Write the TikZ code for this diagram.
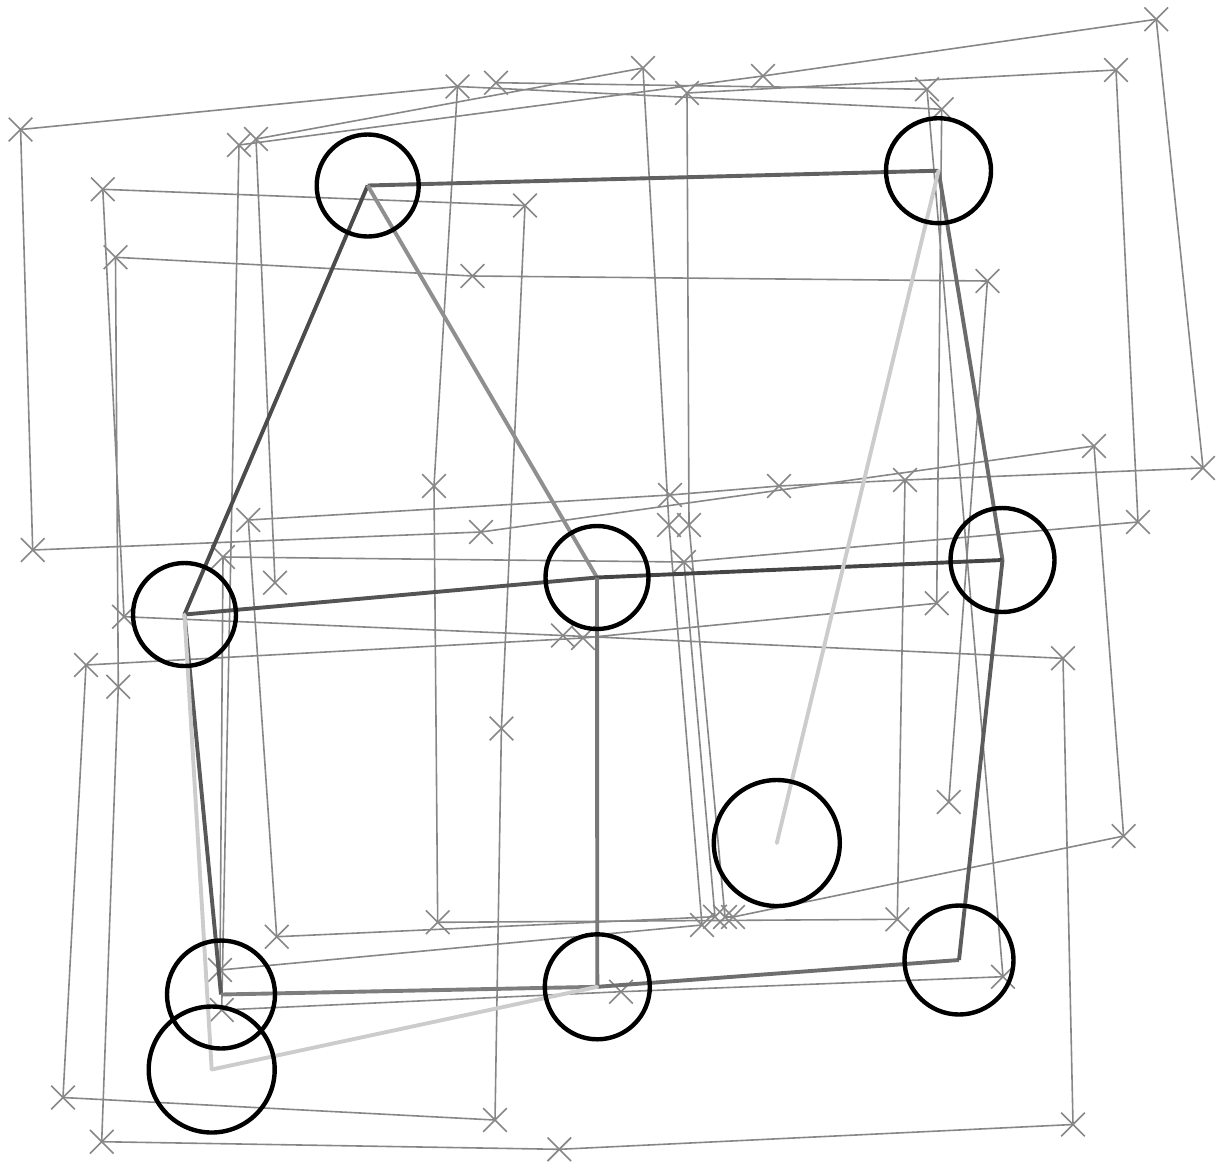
\documentclass[tikz,border=0pt]{standalone}
\usetikzlibrary{shapes.misc}

\begin{document}
\begin{tikzpicture}[
  x=0.1mm, y=-0.1mm,
  track/.style={draw=black!47, line width=0.16mm, line join=round},
  crossmark/.style={cross out, draw=black!47, line width=0.16mm, minimum size=2.2mm, inner sep=0pt},
  link/.style={line width=0.39mm},
  ring/.style={circle, draw=black, line width=0.44mm, inner sep=0pt}
]
\useasboundingbox (0,0) rectangle (1223,1162);

% poses
\foreach \n/\px/\py in {A/367.7/185.5, B/938.5/170.7, C/1002.5/560, D/597/577.5, E/184.5/614.5,
  F/221/994.5, G/597.3/986.8, H/959/960, I/211.7/1069.5, J/776.8/843}
  \coordinate (\n) at (\px,\py);

% estimated tracks
\foreach \n/\px/\py in {t1/275/582.7, t2/256/139, t3/643/68, t4/669/525, t5/702/925,
  t6/220/970, t7/223/557, t8/684/562, t9/1138/522, t10/1116/70,
  t11/687/93, t12/689/525, t13/725/917, t14/733/917, t15/1123.6/836,
  t16/1094/446, t17/481/532, t18/32.7/550, t19/20.6/129.5, t20/457.5/86.5,
  t21/941.7/109.3, t22/936.7/603.3, t23/583/638, t24/86/665, t25/63/1097.5,
  t26/495/1120, t27/501.4/728.5, t28/525/205.5, t29/102.8/189.3, t30/124/616.7,
  t31/563/635.5, t32/1063/658.3, t33/1073/1124.5, t34/559.3/1149.3, t35/101.7/1141.7,
  t36/118.3/686.7, t37/115.5/257.3, t38/472.5/276, t39/987.4/281, t40/948.8/802}
  \coordinate (\n) at (\px,\py);
\foreach \n/\px/\py in {u2/434/486, u3/437.7/922.3, u4/897.3/919.3, u5/905/480, u6/1203/468,
  u7/1156.2/19.3, u8/762.9/76, u9/239/145, u10/221.7/1010, u11/621/991.7,
  u12/1003/976.7, u13/927/89.3, u14/496/82.7}
  \coordinate (\n) at (\px,\py);
\foreach \n/\px/\py in {v2/715/916.7, v3/276.7/936.7, v4/248.3/520, v5/670/495, v6/779/486}
  \coordinate (\n) at (\px,\py);

\draw[track] (t1) \foreach \i in {2,...,40} {-- (t\i)};
\draw[track] (t20) \foreach \i in {2,...,14} {-- (u\i)};
\draw[track] (t8) \foreach \i in {2,...,6} {-- (v\i)} -- (u5);

\foreach \i in {1,...,40} \node[crossmark] (x-t\i) at (t\i) {};
\foreach \i in {2,...,14} \node[crossmark] (x-u\i) at (u\i) {};
\foreach \i in {2,...,6} \node[crossmark] (x-v\i) at (v\i) {};

% constraints
\foreach \u/\v/\c in {A/B/62, A/E/70, A/D/44, B/C/58, E/D/67, D/C/73, D/G/53,
  E/F/65, F/G/51, G/H/57, H/C/64}
  \draw[link, draw=black!\c] (\u) -- (\v);
\foreach \u/\v in {B/J, E/I, I/G}
  \draw[link, draw=black!20, line cap=round] (\u) -- (\v);

\foreach \n/\d in {A/10.2, B/10.5, C/10.4, D/10.3, E/10.3, F/10.8, G/10.5, H/10.9, I/12.6, J/12.6}
  \node[ring, minimum size=\d mm] (ring-\n) at (\n) {};
\end{tikzpicture}
\end{document}
